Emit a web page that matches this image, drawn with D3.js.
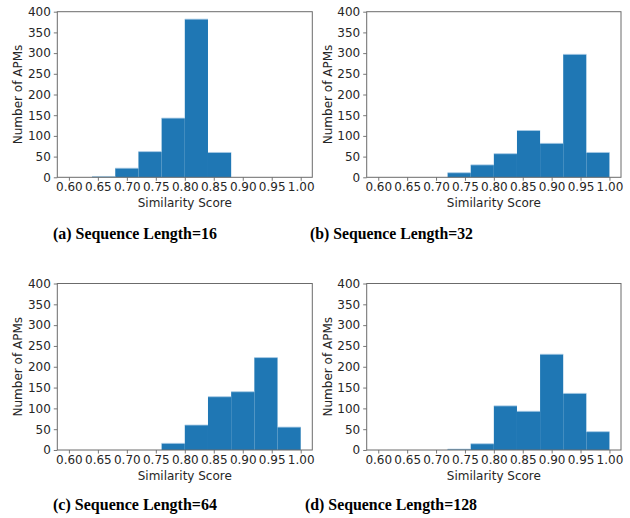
<!DOCTYPE html>
<html>
<head>
<meta charset="utf-8">
<script src="https://cdn.jsdelivr.net/npm/d3@7"></script>
<style>
  body { margin: 0; background: #fff; }
  svg { display: block; }
</style>
</head>
<body>
<svg id="chart" width="630" height="518"></svg>
<script>
// histogram bins (10 bins of 0.04 between 0.60 and 1.00)
const binEdges = [0.60, 0.64, 0.68, 0.72, 0.76, 0.80, 0.84, 0.88, 0.92, 0.96, 1.00];
const countsLen16  = [0, 2, 22, 62, 143, 382, 60, 0, 0, 0];
const countsLen32  = [0, 0, 0, 11, 30, 57, 113, 82, 297, 60];
const countsLen64  = [0, 0, 0, 0, 16, 60, 128, 140, 222, 55];
const countsLen128 = [0, 0, 0, 2, 15, 106, 93, 230, 136, 44];
const xTicks = [0.60, 0.65, 0.70, 0.75, 0.80, 0.85, 0.90, 0.95, 1.00];
const yTicks = [0, 50, 100, 150, 200, 250, 300, 350, 400];
const captions = ["(a) Sequence Length=16", "(b) Sequence Length=32",
                  "(c) Sequence Length=64", "(d) Sequence Length=128"];

const panels = [
  { counts: countsLen16,  left: 57.3,  top: 11.7,  width: 255,   height: 165.6, ylabX: 18.3,  capX: 135,   capY: 239, capW: 164 },
  { counts: countsLen32,  left: 366.7, top: 11.7,  width: 254.3, height: 165.6, ylabX: 327.7, capX: 391.5, capY: 239, capW: 163 },
  { counts: countsLen64,  left: 57.3,  top: 283.5, width: 255,   height: 166.5, ylabX: 18.3,  capX: 135,   capY: 510, capW: 164 },
  { counts: countsLen128, left: 366.7, top: 283.5, width: 254.3, height: 166.5, ylabX: 327.7, capX: 391,   capY: 510, capW: 172 }
];

const tickFont = "'DejaVu Sans', sans-serif";
const svg = d3.select("#chart");

panels.forEach(function (p, k) {
  const x = d3.scaleLinear().domain([0.58, 1.02]).range([0, p.width]);
  const y = d3.scaleLinear().domain([0, 400]).range([p.height, 0]);

  const g = svg.append("g")
    .attr("transform", `translate(${p.left},${p.top})`);

  const bins = p.counts.map((c, i) => ({ x0: binEdges[i], x1: binEdges[i + 1], n: c }))
    .filter(d => d.n > 0);

  g.selectAll("rect.bar")
    .data(bins)
    .enter().append("rect")
    .attr("class", "bar")
    .attr("x", d => x(d.x0))
    .attr("width", d => x(d.x1) - x(d.x0))
    .attr("y", d => y(d.n))
    .attr("height", d => y(0) - y(d.n))
    .attr("fill", "#1f77b4");

  // light top edge of each bar
  g.selectAll("line.edge")
    .data(bins)
    .enter().append("line")
    .attr("class", "edge")
    .attr("x1", d => x(d.x0))
    .attr("x2", d => x(d.x1))
    .attr("y1", d => y(d.n))
    .attr("y2", d => y(d.n))
    .attr("stroke", "#a9cbe6")
    .attr("stroke-width", 0.8);

  const xAxis = g.append("g")
    .attr("transform", `translate(0,${p.height})`)
    .call(d3.axisBottom(x).tickValues(xTicks).tickFormat(d3.format(".2f")).tickSize(3.5).tickPadding(2));

  const yAxis = g.append("g")
    .call(d3.axisLeft(y).tickValues(yTicks).tickSize(3.5).tickPadding(3));

  [xAxis, yAxis].forEach(a => {
    a.select(".domain").remove();
    a.selectAll(".tick line").attr("stroke", "#555").attr("stroke-width", 0.8);
    a.selectAll(".tick text")
      .style("font-family", tickFont)
      .style("font-size", "12px")
      .attr("fill", "#262626");
  });

  // frame (spines)
  g.append("rect")
    .attr("width", p.width)
    .attr("height", p.height)
    .attr("fill", "none")
    .attr("stroke", "#6b6b6b")
    .attr("stroke-width", 1);

  g.append("text")
    .attr("x", p.width / 2)
    .attr("y", p.height + 30)
    .attr("text-anchor", "middle")
    .style("font-family", tickFont)
    .style("font-size", "12px")
    .attr("fill", "#262626")
    .text("Similarity Score");

  svg.append("text")
    .attr("transform", `translate(${p.ylabX},${p.top + p.height / 2}) rotate(-90)`)
    .attr("dominant-baseline", "central")
    .attr("text-anchor", "middle")
    .style("font-family", tickFont)
    .style("font-size", "12px")
    .attr("fill", "#262626")
    .text("Number of APMs");

  svg.append("text")
    .attr("x", p.capX)
    .attr("y", p.capY)
    .attr("text-anchor", "middle")
    .attr("textLength", p.capW)
    .attr("lengthAdjust", "spacingAndGlyphs")
    .style("font-family", "'Liberation Serif', serif")
    .style("font-weight", "bold")
    .style("font-size", "17.5px")
    .text(captions[k]);
});
</script>
</body>
</html>
